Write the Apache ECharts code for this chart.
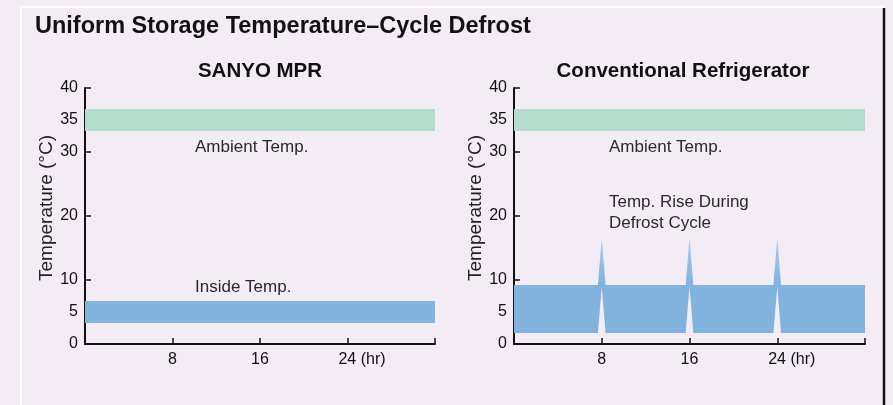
<!DOCTYPE html>
<html>
<head>
<meta charset="utf-8">
<script src="https://cdn.jsdelivr.net/npm/echarts@6/dist/echarts.min.js"></script>
<style>
  html, body { margin: 0; padding: 0; background: #f3ecf4; }
  #chart { width: 893px; height: 405px; }
</style>
</head>
<body>
<div id="chart"></div>
<script>
// hours along the x axis (0 - 32 hr)
var spanHours = [0, 32];
var ambientLow = [33.3, 33.3];
var ambientHigh = [36.7, 36.7];
var mprLow = [3.3, 3.3];
var mprHigh = [6.7, 6.7];

// conventional fridge: band jumps up during each defrost cycle
var convHours = [0, 7.65, 8, 8.35, 15.65, 16, 16.35, 23.65, 24, 24.35, 32];
var convLow  = [1.7, 1.7, 9.0, 1.7, 1.7, 9.0, 1.7, 1.7, 9.0, 1.7, 1.7];
var convHigh = [9.2, 9.2, 16.5, 9.2, 9.2, 16.5, 9.2, 9.2, 16.5, 9.2, 9.2];

var yLabelValues = [0, 5, 10, 20, 30, 35, 40];
var yTickValues = [0, 10, 20, 30, 40];
var xLabelValues = [8, 16, 24];
var xTickValues = [8, 16, 24, 32];

var font = '"Liberation Sans", Arial, sans-serif';
var green = '#b3dccd';
var blue = '#80b3dd';
var ink = '#111';

// a filled band between lo and hi, drawn as one polygon through the axes
function band(gi, xs, lo, hi, color, fadeTop) {
  return {
    type: 'custom', xAxisIndex: gi, yAxisIndex: gi, silent: true,
    data: xs.map(function (x, i) { return [x, lo[i], hi[i]]; }),
    encode: { x: 0, y: [1, 2] },
    renderItem: function (params, api) {
      if (params.dataIndex !== 0) return null;
      var n = xs.length, top = [], bottom = [], maxHi = 0, minHi = Infinity;
      for (var i = 0; i < n; i++) {
        top.push(api.coord([api.value(0, i), api.value(2, i)]));
        bottom.unshift(api.coord([api.value(0, i), api.value(1, i)]));
        maxHi = Math.max(maxHi, api.value(2, i));
        minHi = Math.min(minHi, api.value(2, i));
      }
      var fill = color;
      if (fadeTop && maxHi > minHi) {
        var y0 = api.coord([0, maxHi])[1], y1 = api.coord([0, minHi])[1];
        fill = new echarts.graphic.LinearGradient(0, y0, 0, y1, [
          { offset: 0, color: '#a9cbea' },
          { offset: 1, color: color }
        ], true);
      }
      return { type: 'polygon', shape: { points: top.concat(bottom) },
        style: { fill: fill } };
    }
  };
}

function xAxis(gi) {
  return {
    type: 'value', gridIndex: gi, min: 0, max: 32, interval: 8,
    axisLine: { lineStyle: { color: ink, width: 2 } },
    axisTick: { show: true, inside: true, length: 6, customValues: xTickValues,
      lineStyle: { color: ink, width: 1.5 } },
    axisLabel: {
      customValues: xLabelValues, margin: 8, fontSize: 16, color: ink, fontFamily: font,
      formatter: function (v) { return v === 24 ? '{h|24 (hr)}' : String(v); },
      rich: { h: { fontSize: 16, color: ink, fontFamily: font, padding: [0, 0, 0, 29] } }
    },
    splitLine: { show: false }
  };
}

function yAxis(gi) {
  return {
    type: 'value', gridIndex: gi, min: 0, max: 40, interval: 5,
    name: 'Temperature (°C)', nameLocation: 'middle', nameGap: 26,
    nameTextStyle: { fontSize: 19, color: '#222', fontFamily: font, padding: [0, 0, 0, 16] },
    axisLine: { show: true, lineStyle: { color: ink, width: 2 } },
    axisTick: { show: true, inside: true, length: 6, customValues: yTickValues,
      lineStyle: { color: ink, width: 1.5 } },
    axisLabel: { customValues: yLabelValues, margin: 7, fontSize: 16, color: ink, fontFamily: font },
    splitLine: { show: false }
  };
}

function note(x, y, text) {
  return { type: 'text', left: x, top: y, silent: true,
    style: { text: text, fontSize: 17, lineHeight: 21, fill: '#2a2a2a', fontFamily: font } };
}

var option = {
  animation: false,
  backgroundColor: '#f3ecf4',
  title: [
    { text: 'Uniform Storage Temperature–Cycle Defrost', left: 35, top: 15, padding: 0,
      textStyle: { fontSize: 23.5, fontWeight: 'bold', color: ink, fontFamily: font } },
    { text: 'SANYO MPR', left: 260, top: 61, textAlign: 'center', padding: 0,
      textStyle: { fontSize: 20.5, fontWeight: 'bold', color: ink, fontFamily: font } },
    { text: 'Conventional Refrigerator', left: 683, top: 61, textAlign: 'center', padding: 0,
      textStyle: { fontSize: 20.5, fontWeight: 'bold', color: ink, fontFamily: font } }
  ],
  grid: [
    { left: 85, top: 88, width: 350, height: 256 },
    { left: 514, top: 88, width: 351, height: 256 }
  ],
  xAxis: [xAxis(0), xAxis(1)],
  yAxis: [yAxis(0), yAxis(1)],
  graphic: [
    { type: 'line', silent: true, shape: { x1: 21, y1: 7, x2: 884, y2: 7 }, style: { stroke: '#fff', lineWidth: 2 } },
    { type: 'line', silent: true, shape: { x1: 21, y1: 7, x2: 21, y2: 405 }, style: { stroke: '#fff', lineWidth: 2 } },
    { type: 'line', silent: true, shape: { x1: 884, y1: 8, x2: 884, y2: 405 }, style: { stroke: ink, lineWidth: 2.5 } },
    note(195, 137, 'Ambient Temp.'),
    note(195, 277, 'Inside Temp.'),
    note(609, 137, 'Ambient Temp.'),
    note(609, 192, 'Temp. Rise During\nDefrost Cycle')
  ],
  series: [
    band(0, spanHours, ambientLow, ambientHigh, green),
    band(0, spanHours, mprLow, mprHigh, blue),
    band(1, spanHours, ambientLow, ambientHigh, green),
    band(1, convHours, convLow, convHigh, blue, true)
  ]
};

var chart = echarts.init(document.getElementById('chart'), null, { renderer: 'canvas' });
chart.setOption(option);
</script>
</body>
</html>
